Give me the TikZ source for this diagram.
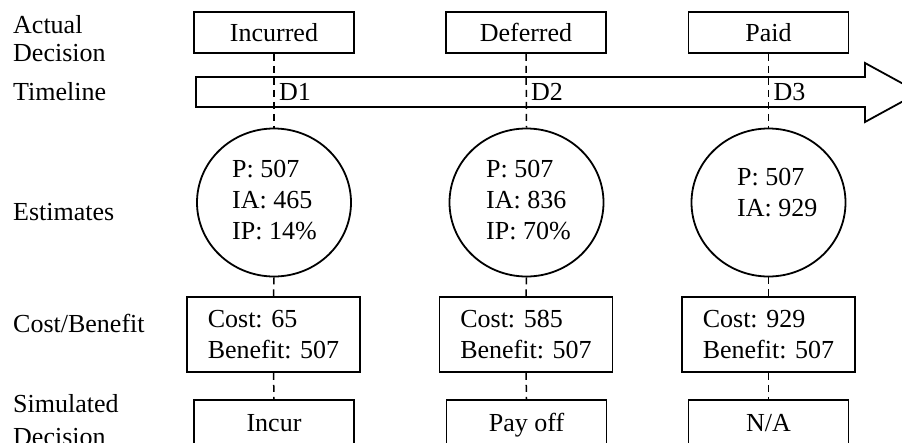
\documentclass[tikz,border=0pt]{standalone}
\usepackage{fontspec}
\setmainfont{Liberation Serif}
\usetikzlibrary{shapes.geometric}
\begin{document}
\begin{tikzpicture}[x=1pt,y=-1pt,
  every node/.style={font=\fontsize{26}{31}\selectfont, inner sep=0pt},
  rowlabel/.style={anchor=west, align=left},
  decbox/.style={draw, line width=1.8pt, minimum width=160pt, minimum height=41pt, fill=white, text height=18.5pt, text depth=0pt},
  cbbox/.style={draw, line width=1.8pt, minimum width=173pt, minimum height=75pt, align=left, fill=white},
  estell/.style={draw, ellipse, line width=1.8pt, minimum width=154pt, minimum height=148pt, fill=white},
  esttext/.style={anchor=west, align=left},
  guide/.style={line width=1.5pt, dash pattern=on 7pt off 5pt},
  timearrow/.style={draw, line width=1.8pt, fill=white}
]
\path[use as bounding box, clip] (0,0) rectangle (902,442);

% row labels
\node[rowlabel, font=\fontsize{26}{28}\selectfont] (lact) at (13,39) {Actual\\Decision};
\node[rowlabel] (ltime) at (13,92) {Timeline};
\node[rowlabel] (lest) at (13,212) {Estimates};
\node[rowlabel] (lcb) at (13,323) {Cost/Benefit};
\node[rowlabel, font=\fontsize{26}{33}\selectfont] (lsim) at (13,420) {Simulated\\Decision};

% timeline arrow
\draw[timearrow] (196,77) -- (865,77) -- (865,63) -- (919,92.5) -- (865,122) -- (865,107) -- (196,107) -- cycle;

% actual decisions
\node[decbox] (a1) at (274,32.5) {Incurred};
\node[decbox] (a2) at (526,32.5) {Deferred};
\node[decbox] (a3) at (768.5,32.5) {Paid};

% estimates
\node[estell] (e1) at (274,202.5) {};
\node[estell] (e2) at (526.5,202.5) {};
\node[estell] (e3) at (768.5,202.5) {};
\node[esttext] (e1t) at (232,200) {P: 507\\IA: 465\\IP: 14\%};
\node[esttext] (e2t) at (486,200) {P: 507\\IA: 836\\IP: 70\%};
\node[esttext] (e3t) at (737,193) {P: 507\\IA: 929};

% cost / benefit
\node[cbbox] (c1) at (273.5,334.5) {Cost: 65\\Benefit: 507};
\node[cbbox] (c2) at (526,334.5) {Cost: 585\\Benefit: 507};
\node[cbbox] (c3) at (768.5,334.5) {Cost: 929\\Benefit: 507};

% simulated decisions
\node[decbox, minimum height=44pt] (s1) at (274,422) {Incur};
\node[decbox, minimum height=44pt] (s2) at (526.5,422) {Pay off};
\node[decbox, minimum height=44pt] (s3) at (768.5,422) {N/A};

% decision points on the timeline
\coordinate (d1) at (274,92);
\coordinate (d2) at (526,92);
\coordinate (d3) at (768.5,92);
\node[anchor=west] (d1t) at ([xshift=5pt]d1) {D1};
\node[anchor=west] (d2t) at ([xshift=5pt]d2) {D2};
\node[anchor=west] (d3t) at ([xshift=5pt]d3) {D3};

% vertical guides
\foreach \i in {1,2,3} {
  \draw[guide] (a\i.south) -- (e\i.north);
  \draw[guide] (e\i.south) -- (c\i.north);
  \draw[guide] (c\i.south) -- (s\i.north);
}
\end{tikzpicture}
\end{document}
